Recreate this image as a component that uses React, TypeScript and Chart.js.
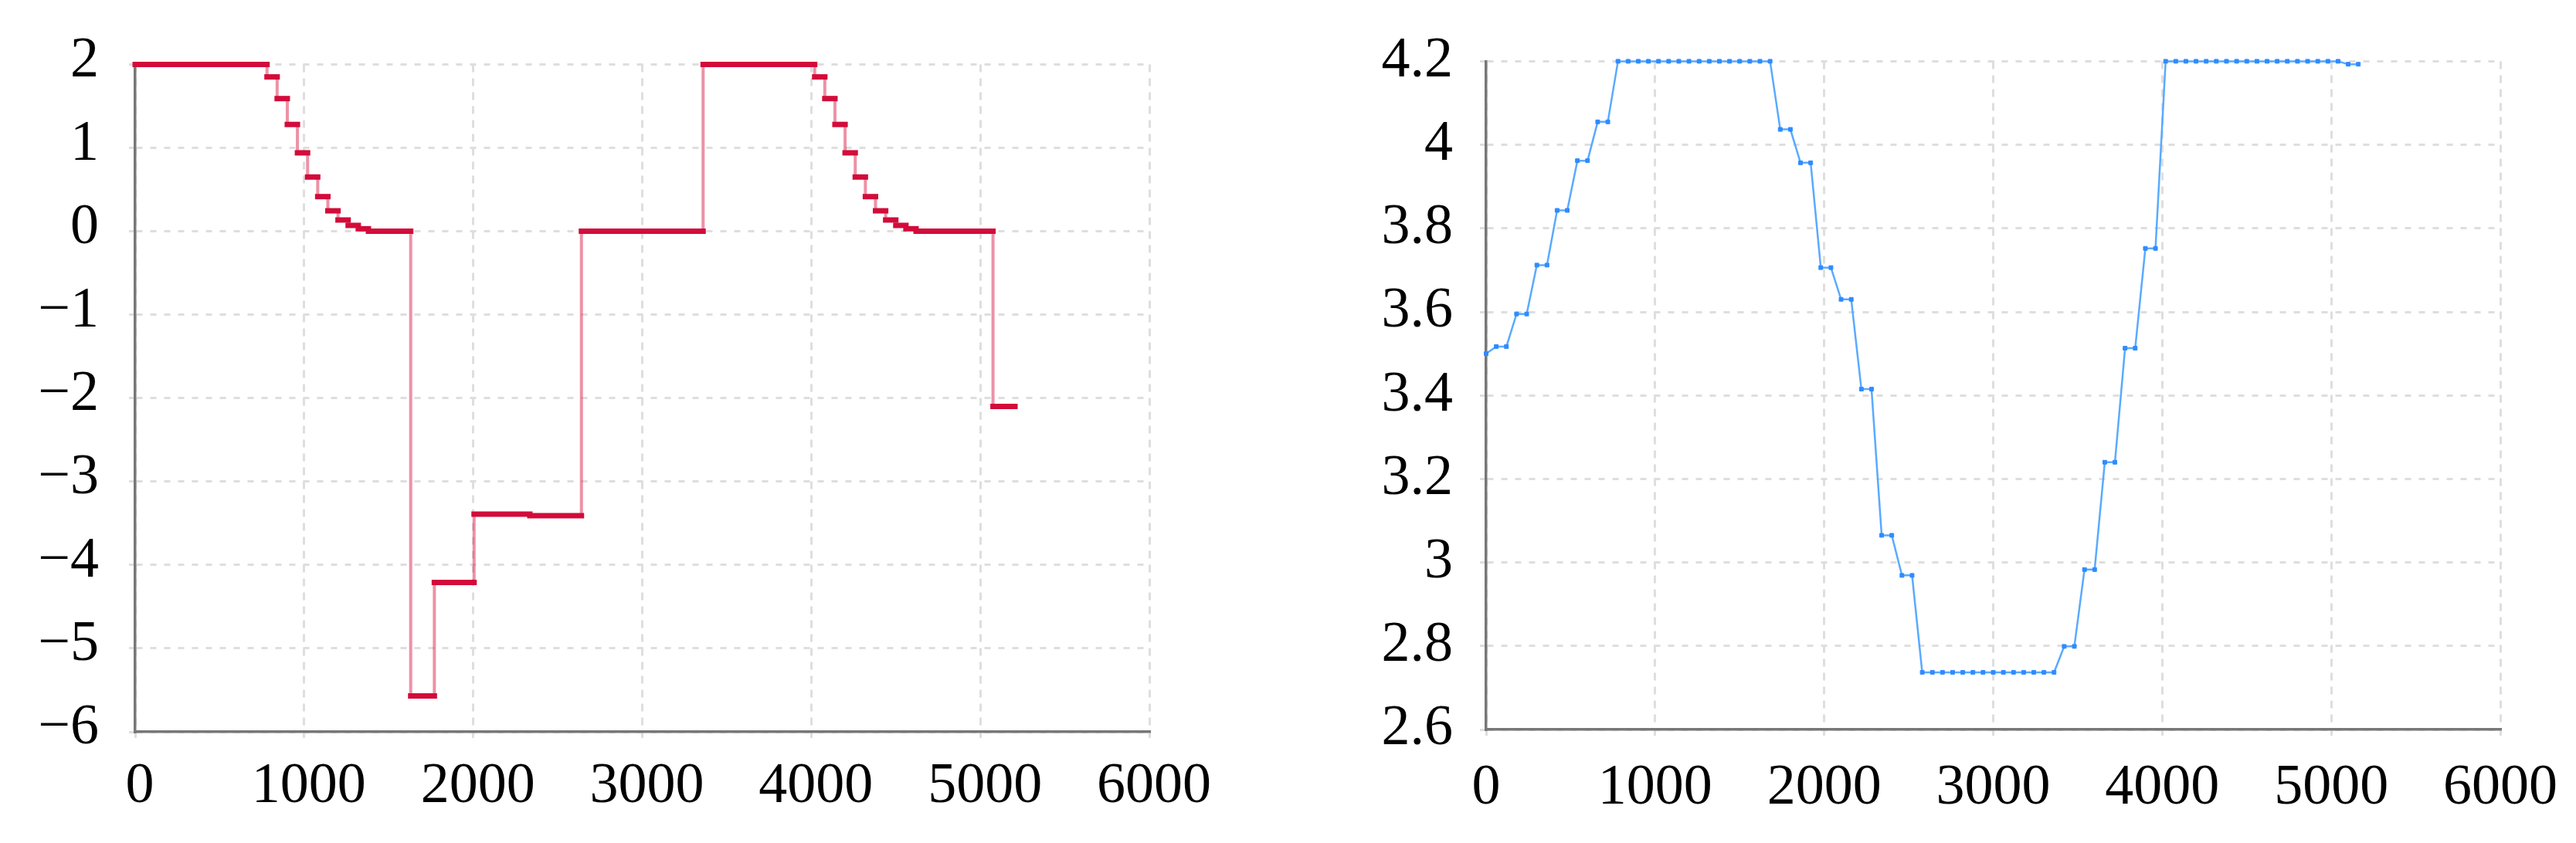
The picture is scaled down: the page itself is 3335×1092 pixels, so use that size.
import React, { useEffect, useRef } from 'react';
import { Chart, registerables } from 'chart.js';

Chart.register(...registerables);

// ---------- data ----------
const xTickValues = [0, 1000, 2000, 3000, 4000, 5000, 6000];
const leftYTickValues = [-6, -5, -4, -3, -2, -1, 0, 1, 2];
const rightYTickValues = [2.6, 2.8, 3, 3.2, 3.4, 3.6, 3.8, 4, 4.2];

// left chart: step levels (start time of each level and its value)
const leftStarts = [
  0, 780, 840, 900, 960, 1020, 1080, 1140, 1200, 1260, 1320, 1380,
  1630, 1770, 2005, 2335, 2640, 3360,
  4020, 4080, 4140, 4200, 4260, 4320, 4380, 4440, 4500, 4560, 4620, 5075,
];
const leftValues = [
  2, 1.85, 1.59, 1.28, 0.94, 0.65, 0.415, 0.245, 0.135, 0.07, 0.03, 0,
  -5.57, -4.21, -3.39, -3.41, 0, 2,
  1.85, 1.59, 1.28, 0.94, 0.65, 0.415, 0.245, 0.135, 0.07, 0.03, 0, -2.1,
];
const leftEnd = 5205;

// right chart: sampled points
const rightTimes = [
  0, 60, 120, 180, 240, 300, 360, 420, 480, 540, 600, 660, 720,
  780, 840, 900, 960, 1020, 1080, 1140, 1200, 1260, 1320, 1380, 1440, 1500, 1560, 1620, 1680,
  1740, 1800, 1860, 1920, 1980, 2040, 2100, 2160, 2220, 2280, 2340, 2400, 2460, 2520,
  2580, 2640, 2700, 2760, 2820, 2880, 2940, 3000, 3060, 3120, 3180, 3240, 3300, 3360,
  3420, 3480, 3540, 3600, 3660, 3720, 3780, 3840, 3900, 3960,
  4020, 4080, 4140, 4200, 4260, 4320, 4380, 4440, 4500, 4560, 4620, 4680, 4740, 4800, 4860, 4920, 4980, 5040,
  5100, 5160,
];
const rightValues = [
  3.5, 3.517, 3.517, 3.595, 3.595, 3.712, 3.712, 3.843, 3.843, 3.962, 3.962, 4.055, 4.055,
  4.2, 4.2, 4.2, 4.2, 4.2, 4.2, 4.2, 4.2, 4.2, 4.2, 4.2, 4.2, 4.2, 4.2, 4.2, 4.2,
  4.037, 4.037, 3.957, 3.957, 3.706, 3.706, 3.63, 3.63, 3.415, 3.415, 3.065, 3.065, 2.969, 2.969,
  2.737, 2.737, 2.737, 2.737, 2.737, 2.737, 2.737, 2.737, 2.737, 2.737, 2.737, 2.737, 2.737, 2.737,
  2.799, 2.799, 2.983, 2.983, 3.24, 3.24, 3.513, 3.513, 3.752, 3.752,
  4.2, 4.2, 4.2, 4.2, 4.2, 4.2, 4.2, 4.2, 4.2, 4.2, 4.2, 4.2, 4.2, 4.2, 4.2, 4.2, 4.2, 4.2,
  4.193, 4.193,
];

// ---------- styles ----------
const FONT = { family: "'Liberation Serif', 'Times New Roman', serif", size: 74 };
const GRID = '#dedede';
const AXIS = '#777777';
const RED = '#d20c3a';
const RED_LIGHT = 'rgba(214, 12, 58, 0.45)';
const BLUE_LINE = 'rgba(80, 165, 255, 0.95)';
const BLUE_POINT = '#2f8bff';

function xScale(height: number, padding: number, labelOffset: number) {
  return {
    type: 'linear',
    min: 0,
    max: 6000,
    afterBuildTicks: (s: any) => {
      s.ticks = xTickValues.map((v) => ({ value: v }));
    },
    afterFit: (s: any) => {
      s.height = height;
    },
    ticks: {
      font: FONT,
      color: '#000',
      padding,
      labelOffset,
      autoSkip: false,
      maxRotation: 0,
      callback: (v: any) => String(v),
    },
    grid: { color: GRID, lineWidth: 3, tickLength: 8, tickColor: GRID, tickWidth: 3 },
    border: { display: true, color: AXIS, width: 3.5, dash: [10, 8] },
  };
}

function yScale(
  width: number,
  min: number,
  max: number,
  values: number[],
  fmt: (v: number) => string,
  padding: number,
  labelOffset: number
) {
  return {
    type: 'linear',
    min,
    max,
    afterBuildTicks: (s: any) => {
      s.ticks = values.map((v) => ({ value: v }));
    },
    afterFit: (s: any) => {
      s.width = width;
    },
    ticks: {
      font: FONT,
      color: '#000',
      padding,
      labelOffset,
      autoSkip: false,
      callback: (v: any) => fmt(Number(v)),
    },
    grid: { color: GRID, lineWidth: 3, tickLength: 8, tickColor: GRID, tickWidth: 3 },
    border: { display: true, color: AXIS, width: 3.5, dash: [8, 10] },
  };
}

function leftConfig(): any {
  const pts: { x: number; y: number }[] = [];
  for (let i = 0; i < leftStarts.length; i++) {
    const end = i + 1 < leftStarts.length ? leftStarts[i + 1] : leftEnd;
    pts.push({ x: leftStarts[i], y: leftValues[i] }, { x: end, y: leftValues[i] });
  }
  return {
    type: 'line',
    data: {
      datasets: [
        {
          data: pts,
          borderColor: RED,
          borderWidth: 7,
          borderCapStyle: 'square',
          pointRadius: 0,
          clip: false,
          segment: {
            borderColor: (ctx: any) =>
              ctx.p0.parsed.y === ctx.p1.parsed.y ? RED : 'rgba(0,0,0,0)',
          },
        },
        {
          data: pts,
          borderColor: RED_LIGHT,
          borderWidth: 4,
          pointRadius: 0,
          clip: false,
        },
      ],
    },
    options: {
      responsive: false,
      animation: false,
      devicePixelRatio: 1,
      events: [],
      layout: { padding: { top: 76.5, right: 172, left: 0, bottom: 0 } },
      plugins: { legend: { display: false }, tooltip: { enabled: false } },
      scales: {
        x: xScale(144, 19, 6),
        y: yScale(
          175,
          -6,
          2,
          leftYTickValues,
          (v) => (v < 0 ? '\u2212' + Math.abs(v) : String(v)),
          39,
          -4
        ),
      },
    },
  };
}

function rightConfig(): any {
  const pts = rightTimes.map((t, i) => ({ x: t, y: rightValues[i] }));
  return {
    type: 'line',
    data: {
      datasets: [
        {
          data: pts,
          borderColor: BLUE_LINE,
          borderWidth: 2.5,
          pointStyle: 'rect',
          pointRadius: 3.5,
          pointBorderWidth: 1,
          pointBackgroundColor: BLUE_POINT,
          pointBorderColor: BLUE_POINT,
          tension: 0,
          clip: false,
        },
      ],
    },
    options: {
      responsive: false,
      animation: false,
      devicePixelRatio: 1,
      events: [],
      layout: { padding: { top: 72.6, right: 96, left: 0, bottom: 0 } },
      plugins: { legend: { display: false }, tooltip: { enabled: false } },
      scales: {
        x: xScale(147, 24, 0),
        y: yScale(
          264,
          2.6,
          4.2,
          rightYTickValues,
          (v) => String(Math.round(v * 10) / 10),
          35,
          0
        ),
      },
    },
  };
}

function ChartCanvas({
  makeConfig,
  left,
  width,
  height,
}: {
  makeConfig: () => any;
  left: number;
  width: number;
  height: number;
}) {
  const ref = useRef<HTMLCanvasElement>(null);
  useEffect(() => {
    if (!ref.current) return;
    const chart = new Chart(ref.current, makeConfig());
    return () => chart.destroy();
  }, [makeConfig]);
  return (
    <canvas
      ref={ref}
      width={width}
      height={height}
      style={{ position: 'absolute', left, top: 0, width, height }}
    />
  );
}

export default function App() {
  return (
    <div
      style={{
        position: 'fixed',
        left: 0,
        top: 0,
        width: 3335,
        height: 1092,
        background: '#ffffff',
        overflow: 'hidden',
      }}
    >
      <ChartCanvas makeConfig={leftConfig} left={0} width={1660} height={1092} />
      <ChartCanvas makeConfig={rightConfig} left={1660} width={1675} height={1092} />
    </div>
  );
}
